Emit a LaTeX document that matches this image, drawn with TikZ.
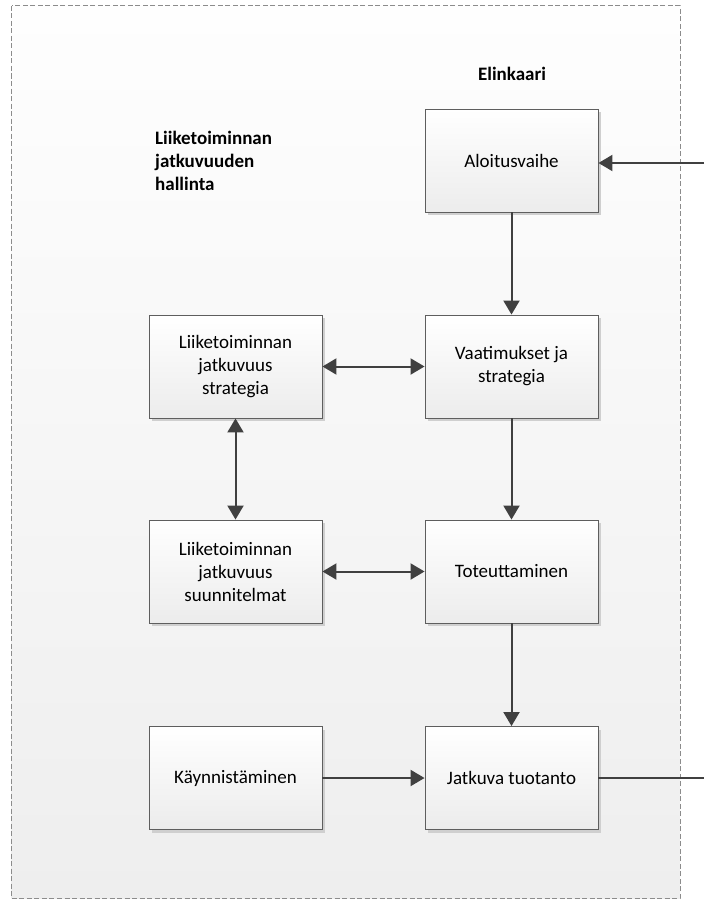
\documentclass[tikz,border=0pt]{standalone}
\usepackage{fontspec}
\setmainfont{Carlito}
\usetikzlibrary{arrows.meta,shadows}
\definecolor{linegray}{HTML}{404040}
\definecolor{boxedge}{HTML}{5E5E5E}
\definecolor{framegray}{HTML}{8C8C8C}
\definecolor{bgtop}{HTML}{FEFEFE}
\definecolor{bgbottom}{HTML}{EEEEEE}
\definecolor{boxbottom}{HTML}{ECECEC}
\definecolor{shadowgray}{HTML}{CFCFCF}

\begin{document}
\begin{tikzpicture}[x=1pt,y=-1pt,
  stage/.style={minimum width=173pt,minimum height=103pt,inner sep=0pt,
    draw=boxedge,line width=0.9pt,top color=white,bottom color=boxbottom,
    align=center,font=\fontsize{19}{23}\selectfont,
    general shadow={fill=shadowgray,shadow xshift=3pt,shadow yshift=-3pt}},
  flow/.style={draw=linegray,line width=2pt,-{Triangle[length=14pt,width=16pt]}},
  twoway/.style={draw=linegray,line width=2pt,{Triangle[length=14pt,width=16pt]}-{Triangle[length=14pt,width=16pt]}},
  plain/.style={draw=linegray,line width=2pt},
  heading/.style={font=\bfseries\fontsize{19}{23}\selectfont,text=black,inner sep=0pt}]

% page area
\useasboundingbox (0,0) rectangle (704,899);

% dashed container with soft vertical gradient
\path[top color=bgtop,bottom color=bgbottom] (11.5,6) rectangle (680,898);
\draw[framegray,line width=1pt,dash pattern=on 5pt off 2.5pt] (11.5,6) rectangle (680,898);

% titles
\node[heading,anchor=base] (lifecycle) at (512,81) {Elinkaari};
\node[heading,anchor=west,align=left] (bcm) at (155,161)
  {Liiketoiminnan\\jatkuvuuden\\hallinta};

% lifecycle column
\node[stage] (start)  at (511.5,160.5) {Aloitusvaihe};
\node[stage] (req)    at (511.5,366.5) {Vaatimukset ja\\strategia};
\node[stage] (impl)   at (511.5,571.5) {Toteuttaminen};
\node[stage] (prod)   at (511.5,778)   {Jatkuva tuotanto};

% continuity management column
\node[stage] (strat)  at (235.5,366.5) {Liiketoiminnan\\jatkuvuus\\strategia};
\node[stage] (plans)  at (235.5,571.5) {Liiketoiminnan\\jatkuvuus\\suunnitelmat};
\node[stage] (launch) at (235.5,778)   {Käynnistäminen};

% free ends at the right edge
\coordinate (inlet)  at (704,163);
\coordinate (outlet) at (704,778);

% connectors
\draw[flow] (inlet) -- (inlet -| start.east);
\draw[flow] (start) -- (req);
\draw[flow] (req) -- (impl);
\draw[flow] (impl) -- (prod);
\draw[flow] (launch) -- (prod);
\draw[plain] (prod.east) -- (outlet);
\draw[twoway] (strat) -- (req);
\draw[twoway] (strat) -- (plans);
\draw[twoway] (plans) -- (impl);
\end{tikzpicture}
\end{document}
